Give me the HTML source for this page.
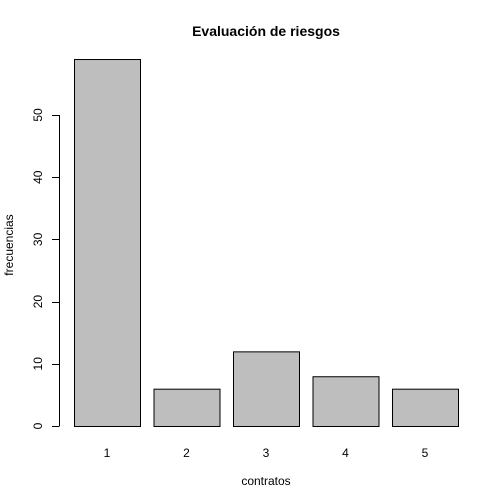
<!DOCTYPE html>
<html><head><meta charset="utf-8"><style>body{margin:0;background:#fff}svg{display:block}text{font-family:"Liberation Sans",Arial,sans-serif}</style></head>
<body>
<svg id="c" width="504" height="504" xmlns="http://www.w3.org/2000/svg">
<text x="266" y="36" text-anchor="middle" font-size="14" font-weight="bold">Evaluación de riesgos</text>
<text x="266" y="485" text-anchor="middle" font-size="12">contratos</text>
<text transform="translate(13,245) rotate(-90)" text-anchor="middle" font-size="12">frecuencias</text>
<g id="bars"></g><g id="yaxis"></g><g id="xlabels"></g>
</svg>
<script>
const categories = ["1","2","3","4","5"];
const values = [59,6,12,8,6];
const yTicks = [0,10,20,30,40,50];
const ns="http://www.w3.org/2000/svg";
function y(v){return 426 - v*6.22;}
function x(i){return 74 + i*79.5;}
const bw=66;
const bars=document.getElementById('bars'), ya=document.getElementById('yaxis'), xl=document.getElementById('xlabels');
values.forEach((v,i)=>{
  const r=document.createElementNS(ns,'rect');
  
  
  r.setAttribute('x',x(i)+0.5);r.setAttribute('y',y(v)+0.5);
  r.setAttribute('width',bw);r.setAttribute('height',y(0)-y(v));
  r.setAttribute('fill','#bebebe');r.setAttribute('stroke','#000');
  bars.appendChild(r);
  const t=document.createElementNS(ns,'text');
  
  
  t.setAttribute('x',x(i)+bw/2);t.setAttribute('y',457);
  t.setAttribute('text-anchor','middle');t.setAttribute('font-size','12');
  t.textContent=categories[i];xl.appendChild(t);
});
const al=document.createElementNS(ns,'line');


al.setAttribute('x1',59.5);al.setAttribute('x2',59.5);
al.setAttribute('y1',y(yTicks[0]));al.setAttribute('y2',y(yTicks[yTicks.length-1]));
al.setAttribute('stroke','#000');ya.appendChild(al);
yTicks.forEach(v=>{
  const l=document.createElementNS(ns,'line');
  
  
  l.setAttribute('x1',52);l.setAttribute('x2',59.5);
  l.setAttribute('y1',Math.round(y(v))+0.5);l.setAttribute('y2',Math.round(y(v))+0.5);
  l.setAttribute('stroke','#000');ya.appendChild(l);
  const t=document.createElementNS(ns,'text');
  
  
  t.setAttribute('transform','translate(42,'+y(v)+') rotate(-90)');
  t.setAttribute('text-anchor','middle');t.setAttribute('font-size','12');
  t.textContent=v;ya.appendChild(t);
});
</script>
</body></html>
